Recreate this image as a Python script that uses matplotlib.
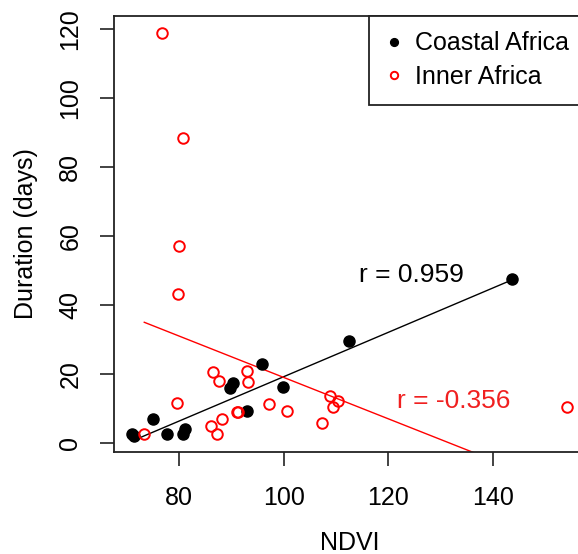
import matplotlib
matplotlib.use("Agg")
import matplotlib.pyplot as plt
import numpy as np

plt.rcParams['font.family'] = ['Liberation Sans', 'DejaVu Sans']

# Coastal Africa (filled black)
coastal_ndvi = [71.0, 71.4, 75.0, 77.7, 80.65, 81.1, 89.6, 90.3, 92.9, 95.75, 99.9, 112.5, 143.6]
coastal_dur = [2.5, 2.0, 6.9, 2.5, 2.6, 3.9, 15.8, 17.4, 9.3, 22.8, 16.3, 29.5, 47.4]

# Inner Africa (open red)
inner_ndvi = [76.75, 80.65, 80.0, 79.7, 73.3, 79.5, 86.0, 87.2, 88.2, 86.4, 87.65,
              91.0, 91.3, 92.9, 93.2, 97.2, 100.65, 107.2, 108.8, 109.3, 110.3, 154.1]
inner_dur = [118.9, 88.6, 57.0, 43.3, 2.5, 11.4, 4.8, 2.5, 6.9, 20.6, 18.0,
             9.0, 9.0, 20.9, 17.5, 11.2, 9.3, 5.6, 13.6, 10.3, 12.2, 10.3]

# Regression lines (intercept, slope)
coastal_fit = [-45.2, 0.644]
inner_fit = [79.0, -0.6006]

labels = ["Coastal Africa", "Inner Africa"]
r_texts = ["r = 0.959", "r = -0.356"]
xticks = [80, 100, 120, 140]
yticks = [0, 20, 40, 60, 80, 100, 120]

W, H = 578, 554
fig = plt.figure(figsize=(W / 100, H / 100), dpi=100)
ax = fig.add_axes([114.3 / W, (H - 451.7) / H, (584.6 - 114.3) / W, (451.7 - 16) / H])

fs = 18

cx = np.array([min(coastal_ndvi), max(coastal_ndvi)])
ax.plot(cx, coastal_fit[0] + coastal_fit[1] * cx, color='black', lw=1.0, zorder=2)
ix = np.array([min(inner_ndvi), max(inner_ndvi)])
ax.plot(ix, inner_fit[0] + inner_fit[1] * ix, color='red', lw=1.0, zorder=2)

ax.plot(coastal_ndvi, coastal_dur, 'o', color='black', ms=8, mec='black',
        label=labels[0], zorder=3)
ax.plot(inner_ndvi, inner_dur, 'o', mfc='none', mec='red', mew=1.4, ms=7.6,
        label=labels[1], zorder=3)

ax.text(124.4, 48.7, r_texts[0], color='black', fontsize=19, ha='center', va='center')
ax.text(132.5, 12.1, r_texts[1], color='#f02020', fontsize=19, ha='center', va='center')

ax.set_xlim(67.57, 157.5)
ax.set_ylim(-2.6, 123.9)
ax.set_xticks(xticks)
ax.set_yticks(yticks)
ax.tick_params(axis='both', labelsize=fs, length=10, width=1.2, color='#222222')
ax.tick_params(axis='x', pad=15)
ax.tick_params(axis='y', pad=13)
for lab in ax.get_yticklabels():
    lab.set_rotation(90)
    lab.set_va('center')
ax.set_xlabel("NDVI", fontsize=fs, labelpad=15)
ax.set_ylabel("Duration (days)", fontsize=fs, labelpad=15)
for s in ax.spines.values():
    s.set_linewidth(1.3)
    s.set_color('#222222')

leg = ax.legend(loc='upper right', borderaxespad=0, fancybox=False, edgecolor='#222222',
                fontsize=fs, handlelength=0.72, handletextpad=0.5, borderpad=0.62,
                labelspacing=0.38, markerscale=0.7, framealpha=1)
leg.get_frame().set_linewidth(1.3)

fig.savefig("out.png", dpi=100)
